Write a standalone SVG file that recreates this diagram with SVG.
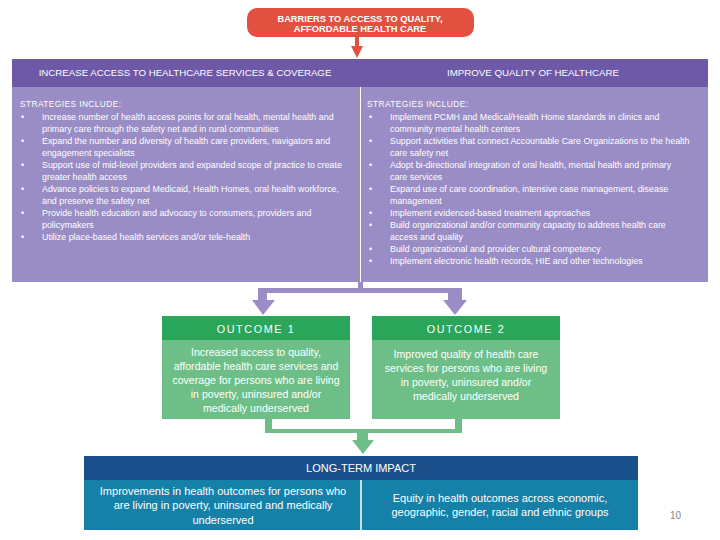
<svg xmlns="http://www.w3.org/2000/svg" width="720" height="540" viewBox="0 0 720 540">
<style>
text{font-family:"Liberation Sans",Arial,sans-serif;fill:#fff}
.hd{font-size:9.7px}
.st{font-size:8.4px;letter-spacing:0.4px}
.b{font-size:8.9px}
.oh{font-size:10.8px;letter-spacing:1.6px}
.ob{font-size:10.6px}
.lb{font-size:11px}
.lh{font-size:11px}
</style>
<rect width="720" height="540" fill="#fff"/>
<g id="barriers">
<rect x="247" y="8" width="227" height="29" rx="10" fill="#e2503f"/>
<text x="360" y="22" font-size="9.3" font-weight="bold" text-anchor="middle">BARRIERS TO ACCESS TO QUALITY,</text>
<text x="360" y="32" font-size="9.3" font-weight="bold" text-anchor="middle">AFFORDABLE HEALTH CARE</text>
</g>
<g id="access">
<rect x="12" y="59" width="349" height="28" fill="#6d59a7"/>
<rect x="12" y="87" width="348" height="195" fill="#9a8cc5"/>
<text class="hd" x="185" y="76" text-anchor="middle">INCREASE ACCESS TO HEALTHCARE SERVICES &amp; COVERAGE</text>
<text class="st" x="20" y="107">STRATEGIES INCLUDE:</text>
<g class="b">
<text x="21" y="120">•</text><text x="42" y="120">Increase number of health access points for oral health, mental health and</text>
<text x="42" y="132">primary care through the safety net and in rural communities</text>
<text x="21" y="144">•</text><text x="42" y="144">Expand the number and diversity of health care providers, navigators and</text>
<text x="42" y="156">engagement specialists</text>
<text x="21" y="168">•</text><text x="42" y="168">Support use of mid-level providers and expanded scope of practice to create</text>
<text x="42" y="180">greater health access</text>
<text x="21" y="192">•</text><text x="42" y="192">Advance policies to expand Medicaid, Health Homes, oral health workforce,</text>
<text x="42" y="204">and preserve the safety net</text>
<text x="21" y="216">•</text><text x="42" y="216">Provide health education and advocacy to consumers, providers and</text>
<text x="42" y="228">policymakers</text>
<text x="21" y="240">•</text><text x="42" y="240">Utilize place-based health services and/or tele-health</text>
</g>
</g>
<g id="quality">
<rect x="360" y="59" width="348" height="28" fill="#6d59a7"/>
<rect x="361" y="87" width="347" height="195" fill="#9a8cc5"/>
<text class="hd" x="533" y="76" text-anchor="middle">IMPROVE QUALITY OF HEALTHCARE</text>
<text class="st" x="367" y="107">STRATEGIES INCLUDE:</text>
<g class="b">
<text x="369" y="120">•</text><text x="390" y="120">Implement PCMH and Medical/Health Home standards in clinics and</text>
<text x="390" y="132">community mental health centers</text>
<text x="369" y="144">•</text><text x="390" y="144">Support activities that connect Accountable Care Organizations to the health</text>
<text x="390" y="156">care safety net</text>
<text x="369" y="168">•</text><text x="390" y="168">Adopt bi-directional integration of oral health, mental health and primary</text>
<text x="390" y="180">care services</text>
<text x="369" y="192">•</text><text x="390" y="192">Expand use of care coordination, intensive case management, disease</text>
<text x="390" y="204">management</text>
<text x="369" y="216">•</text><text x="390" y="216">Implement evidenced-based treatment approaches</text>
<text x="369" y="228">•</text><text x="390" y="228">Build organizational and/or community capacity to address health care</text>
<text x="390" y="240">access and quality</text>
<text x="369" y="252">•</text><text x="390" y="252">Build organizational and provider cultural competency</text>
<text x="369" y="264">•</text><text x="390" y="264">Implement electronic health records, HIE and other technologies</text>
</g>
</g>
<g id="connectors">
<path d="M355 37 V46 H351 L357 58 L363 46 H359 V37 Z" fill="#e2503f"/>
<path d="M358 282 V288 H258 V300 H252 L263 315 L275 300 H267 V293 H448 V300 H443 L455 315 L467 300 H462 V288 H363 V282 Z" fill="#9a8cc5"/>
<path d="M265 419 V433 H357 V440 H352 L363 454 L374 440 H368 V433 H462 V419 H455 V429 H272 V419 Z" fill="#6dbf87"/>
</g>
<g id="outcome1">
<rect x="162" y="316" width="188" height="24" fill="#2aa65a"/>
<rect x="162" y="340" width="188" height="79" fill="#6dbf87"/>
<text class="oh" x="256" y="333" text-anchor="middle">OUTCOME 1</text>
<g class="ob" text-anchor="middle">
<text x="256" y="356">Increased access to quality,</text>
<text x="256" y="370">affordable health care services and</text>
<text x="256" y="384">coverage for persons who are living</text>
<text x="256" y="398">in poverty, uninsured and/or</text>
<text x="256" y="412">medically underserved</text>
</g>
</g>
<g id="outcome2">
<rect x="372" y="316" width="188" height="24" fill="#2aa65a"/>
<rect x="372" y="340" width="188" height="79" fill="#6dbf87"/>
<text class="oh" x="466" y="333" text-anchor="middle">OUTCOME 2</text>
<g class="ob" text-anchor="middle">
<text x="466" y="358">Improved quality of health care</text>
<text x="466" y="372">services for persons who are living</text>
<text x="466" y="386">in poverty, uninsured and/or</text>
<text x="466" y="400">medically underserved</text>
</g>
</g>
<g id="impact">
<rect x="84" y="456" width="554" height="24" fill="#1b4f8b"/>
<rect x="84" y="480" width="554" height="50" fill="#1581a9"/>
<line x1="361" y1="480" x2="361" y2="530" stroke="#fff" stroke-width="1.5"/>
<text class="lh" x="361" y="472" text-anchor="middle">LONG-TERM IMPACT</text>
<g class="lb" text-anchor="middle">
<text x="223" y="495">Improvements in health outcomes for persons who</text>
<text x="223" y="509">are living in poverty, uninsured and medically</text>
<text x="223" y="524">underserved</text>
<text x="500" y="502">Equity in health outcomes across economic,</text>
<text x="500" y="516">geographic, gender, racial and ethnic groups</text>
</g>
</g>
<text x="670" y="519" font-size="10" style="fill:#888">10</text>
</svg>
